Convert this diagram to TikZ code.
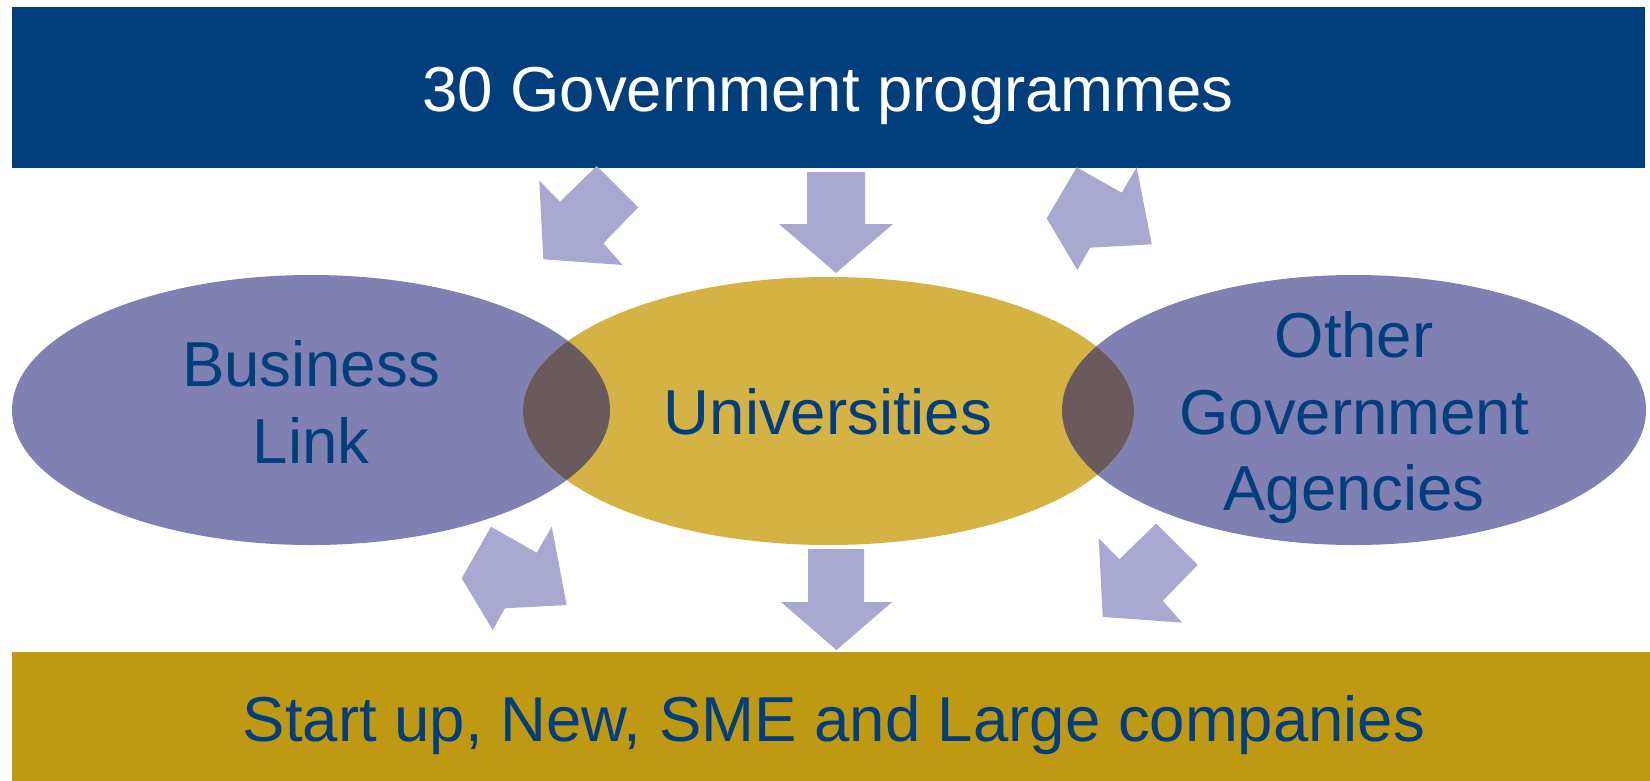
\documentclass[tikz,border=0pt]{standalone}
\usepackage{fontspec}
\setmainfont{Liberation Sans}
\usetikzlibrary{shapes.geometric}
\definecolor{topblue}{RGB}{0,62,124}
\definecolor{goldbar}{RGB}{191,153,18}
\definecolor{ellblue}{RGB}{128,128,178}
\definecolor{ellgold}{RGB}{212,178,68}
\definecolor{overlap}{RGB}{105,90,92}
\definecolor{arrowfill}{RGB}{168,168,208}
\definecolor{txtblue}{RGB}{0,62,125}
\begin{document}
\begin{tikzpicture}[x=1pt,y=-1pt,
  txt/.style={font=\fontsize{63.5}{77}\selectfont, inner sep=0pt, anchor=base, text=txtblue},
  barbox/.style={rectangle, inner sep=0pt, draw=none},
  ellbox/.style={ellipse, inner sep=0pt, draw=none},
  blockarrow/.style={fill=arrowfill, draw=none}]
\useasboundingbox (0,0) rectangle (1650,780);
\fill[white] (0,0) rectangle (1650,780);

% bars
\node[barbox, fill=topblue, minimum width=1633pt, minimum height=161pt] (topbar) at (828.5,87.5) {};
\node[barbox, fill=goldbar, minimum width=1642pt, minimum height=132pt] (botbar) at (833,718) {};

% ellipses
\node[ellbox, fill=ellblue, minimum width=598pt, minimum height=270pt] (bl) at (311,410) {};
\node[ellbox, fill=ellblue, minimum width=584pt, minimum height=270pt] (oga) at (1354,410) {};
\node[ellbox, fill=ellgold, minimum width=611pt, minimum height=268pt] (uni) at (828.5,411) {};

% overlaps
\begin{scope}
  \clip (311,410) ellipse [x radius=299pt, y radius=135pt];
  \fill[overlap] (828.5,411) ellipse [x radius=305.5pt, y radius=134pt];
\end{scope}
\begin{scope}
  \clip (1354,410) ellipse [x radius=292pt, y radius=135pt];
  \fill[overlap] (828.5,411) ellipse [x radius=305.5pt, y radius=134pt];
\end{scope}

% block arrows
\fill[blockarrow] (596.7,166) -- (638.3,207.3) -- (603.3,243.3) -- (622.7,265) -- (543.3,259.3) -- (539.3,180.7) -- (560,201.7) -- cycle;
\fill[blockarrow] (807,172) -- (865,172) -- (865,224) -- (893,224) -- (836,273) -- (779,224) -- (807,224) -- cycle;
\fill[blockarrow] (1076.7,167.3) -- (1121.7,192.7) -- (1136.7,167.3) -- (1151.7,244.3) -- (1090,247.7) -- (1077.3,270) -- (1046.7,218.3) -- cycle;
\fill[blockarrow] (491,526.7) -- (536.7,552.7) -- (551.7,526.7) -- (566.7,605) -- (505,608.3) -- (492.7,630) -- (461.7,578.3) -- cycle;
\fill[blockarrow] (808,549) -- (864,549) -- (864,602) -- (892,602) -- (836.5,650) -- (781,602) -- (808,602) -- cycle;
\fill[blockarrow] (1156.1,523.6) -- (1197.7,564.9) -- (1162.7,600.9) -- (1182.1,622.6) -- (1102.7,616.9) -- (1098.7,538.3) -- (1119.4,559.3) -- cycle;

% texts
\node[txt, text=white] (toptext) at (828,111.7) {30 Government programmes};
\node[txt] (bl1) at (311,386.7) {Business};
\node[txt] (bl2) at (311,463) {Link};
\node[txt] (unitext) at (828,434) {Universities};
\node[txt] (og1) at (1354,357.7) {Other};
\node[txt] (og2) at (1354,434) {Government};
\node[txt] (og3) at (1354,510) {Agencies};
\node[txt] (bottext) at (834,741.7) {Start up, New, SME and Large companies};
\end{tikzpicture}
\end{document}
